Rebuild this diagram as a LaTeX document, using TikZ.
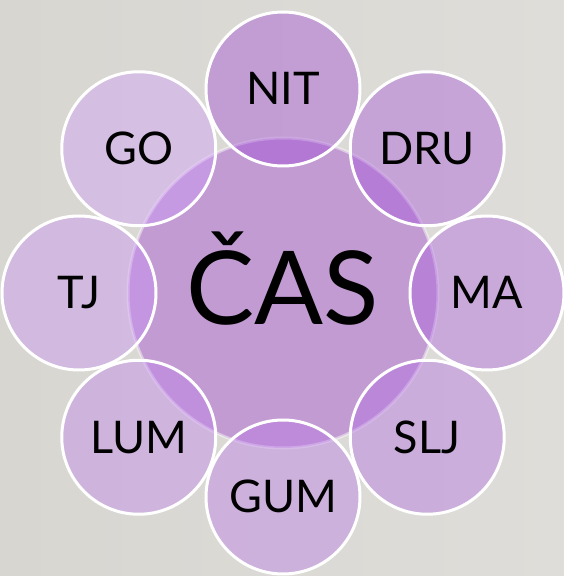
\documentclass[tikz,border=0pt]{standalone}
\usepackage{fontspec}
\setmainfont{Lato}
\usetikzlibrary{positioning}
\definecolor{colorBack}{HTML}{D8D6D1}
\definecolor{colorBackLight}{HTML}{DFDDD9}
\definecolor{colorHub}{HTML}{C29BD3}
\definecolor{colorRingDark}{HTML}{9C45D4}
\definecolor{colorRingLight}{HTML}{CE9AF9}
\tikzset{
  hub/.style={circle, minimum size=310pt, inner sep=0pt, fill=colorHub, draw=white, draw opacity=0.45, line width=3pt, font=\fontsize{102}{110}\selectfont, text height=64pt, text depth=0pt},
  petal/.style={circle, minimum size=154pt, inner sep=0pt, fill=colorRingDark!#1!colorRingLight, fill opacity=0.4, text opacity=1, draw=white, draw opacity=1, line width=3pt, font=\fontsize{45}{50}\selectfont, text height=32pt, text depth=0pt},
}

\begin{document}
\begin{tikzpicture}[on grid, node distance=204pt]
\shade[left color=colorBack, right color=colorBackLight] (0,0) rectangle (564pt,576pt);
\useasboundingbox (0,0) rectangle (564pt,576pt);
\node[hub] (cas) at (283pt,283pt) {ČAS};
\node[petal=100, above=of cas] (nit) {NIT};
\node[petal=86, above right=144.25pt and 144.25pt of cas] (dru) {DRU};
\node[petal=71, right=of cas] (ma) {MA};
\node[petal=57, below right=144.25pt and 144.25pt of cas] (slj) {SLJ};
\node[petal=43, below=of cas] (gum) {GUM};
\node[petal=29, below left=144.25pt and 144.25pt of cas] (lum) {LUM};
\node[petal=14, left=of cas] (tj) {TJ};
\node[petal=0, above left=144.25pt and 144.25pt of cas] (go) {GO};
\end{tikzpicture}
\end{document}
